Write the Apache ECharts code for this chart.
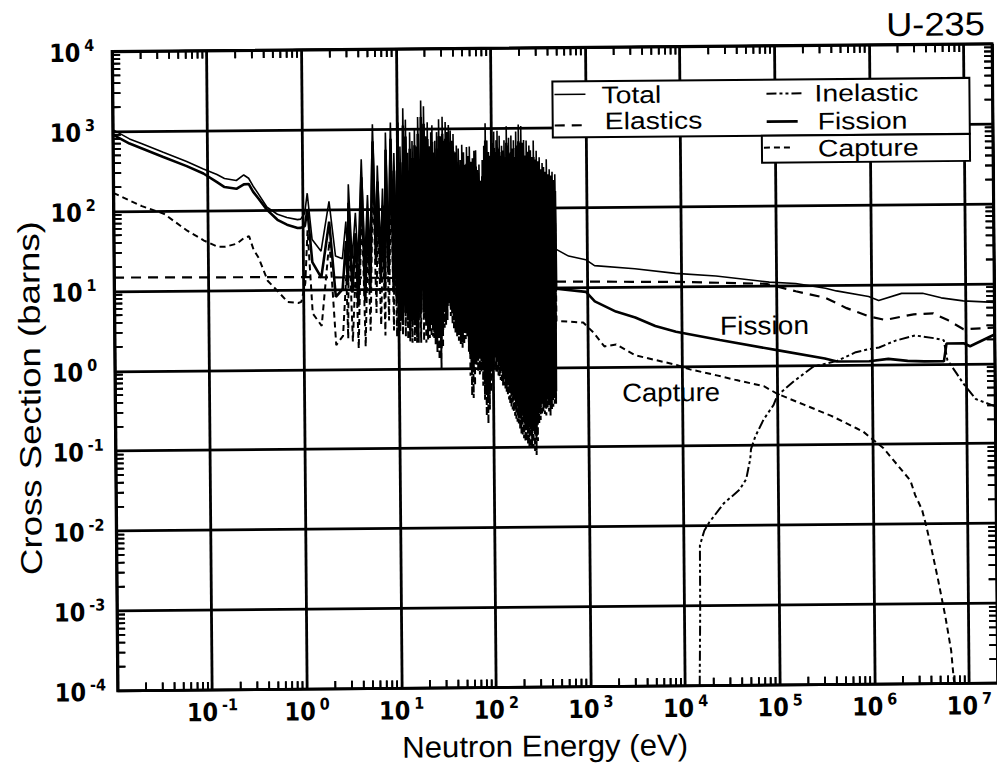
<!DOCTYPE html>
<html>
<head>
<meta charset="utf-8">
<title>U-235 cross sections</title>
<script src="https://cdn.jsdelivr.net/npm/echarts@6/dist/echarts.min.js"></script>
<style>
  html, body { margin: 0; padding: 0; background: #fff; }
  #chart { width: 997px; height: 771px; transform: rotate(-0.5deg); }
</style>
</head>
<body>
<div id="chart"></div>
<script>
// ---- U-235 neutron cross sections (barns) vs neutron energy (eV) ----

// Thermal / 1/v region, below the first resolved resonance
const lowE        = [0.01, 0.015, 0.02, 0.034, 0.06, 0.09, 0.125, 0.15, 0.2, 0.24, 0.27, 0.3, 0.34, 0.42, 0.54, 0.68, 0.88, 0.95];
const lowTotal    = [1050, 800, 700, 540, 410, 330, 280, 250, 235, 275, 250, 200, 160, 108, 88, 80, 75, 76];
const lowFission  = [910, 700, 610, 470, 360, 290, 225, 195, 185, 210, 212, 170, 140, 100, 75, 65, 59, 59];
const lowCapture  = [170, 135, 115, 92, 56, 42, 35, 35, 38, 45, 47, 32, 25, 13, 9.5, 7, 6.8, 7];

// Resolved resonance region, 1 eV - 470 eV (alternating peaks and valleys)
const resE = [
  1.05, 1.12, 1.25, 1.55, 1.9, 2.2, 2.6, 2.85, 2.95, 3.05,
  3.3, 3.6, 3.8, 4.2, 4.5, 4.85, 5.1, 5.55, 5.9, 6.2,
  6.6, 7.0, 7.3, 7.6, 8.0, 8.6, 9.0, 9.3, 9.7,
  10.2, 10.5, 10.8, 11.2, 11.66, 12.0, 12.39, 12.7, 13.0, 13.35,
  13.7, 14.1, 14.5, 14.95, 15.4, 15.75, 16.1, 16.4, 16.7, 17.4,
  18.05, 18.7, 19.3, 19.75, 20.2, 20.6, 21.07, 21.5, 22.0, 22.45,
  22.9, 23.25, 23.6, 23.95, 24.3, 24.75, 25.2, 25.8, 26.4, 27.1,
  27.8, 28.4, 29.0, 29.6, 30.3, 30.9, 31.5, 32.0, 32.6, 33.2,
  33.8, 34.5, 35.2, 36.0, 36.8, 37.5, 38.3, 38.8, 39.4, 40.2,
  41.0, 41.8, 42.6, 43.6, 44.6, 45.6, 46.6, 47.6, 48.6, 49.6,
  50.6, 51.5, 52.5, 53.5, 54.5, 55.5, 56.5, 57.4, 58.4, 59.5,
  60.6, 61.7, 62.8, 64.0, 65.3, 66.6, 68.0, 69.3, 70.6, 72.1,
  73.6, 75.0, 76.5, 78.1, 79.7, 81.3, 83.0, 84.6, 86.2, 87.9,
  89.6, 91.3, 93.0, 94.8, 96.6, 98.5,
  100.5, 101.7, 103, 104.5, 106, 107.5, 109, 110.5, 112, 113.5,
  115, 116.5, 118, 119.5, 121, 123, 125, 126.5, 128, 130,
  132, 134, 136, 138, 140, 142, 144, 146, 148, 150,
  152, 154.5, 157, 159, 161, 163.5, 166, 168.5, 171, 173.5,
  176, 178.5, 181, 184, 187, 190, 193, 196, 199, 202,
  205, 208.5, 212, 215.5, 219, 222.5, 226, 229.5, 233, 237,
  241, 245, 249, 253.5, 258, 262.5, 267, 272, 277, 282,
  287, 292, 297, 302.5, 308, 313.5, 319, 324.5, 330, 336,
  342, 348, 354, 360, 366, 372.5, 379, 385.5, 392, 399,
  406, 413, 420, 427.5, 435, 442.5, 450, 457.5, 465
];
const resTotal = [
  90, 160, 42, 30, 126, 26, 24, 70, 28, 205,
  24, 90, 22, 420, 23, 150, 25, 1150, 40, 350,
  30, 180, 28, 900, 35, 1200, 30, 500, 25,
  1950, 22, 600, 20, 1800, 24, 1300, 20, 500, 18,
  900, 20, 700, 19, 1000, 18, 600, 20, 1400, 22,
  2250, 25, 1900, 21, 800, 19, 1200, 18, 600, 18,
  900, 20, 1100, 18, 500, 17, 700, 18, 900, 19,
  1300, 17, 800, 18, 1400, 19, 700, 18, 1200, 20,
  900, 22, 1100, 20, 940, 18, 700, 17, 850, 17,
  500, 16, 610, 16, 560, 15, 400, 15, 620, 16,
  500, 15, 350, 15, 580, 15, 450, 14, 590, 14,
  380, 14, 420, 14, 520, 15, 530, 14, 300, 14,
  350, 14, 220, 14, 400, 13, 600, 13, 1150, 13,
  700, 13, 500, 14, 450, 14,
  1000, 14, 650, 14, 900, 13, 500, 13, 700, 13,
  920, 13, 550, 13, 800, 13, 450, 13, 600, 13,
  520, 13, 700, 13, 400, 13, 1050, 13, 600, 13,
  750, 12, 480, 12, 800, 12, 550, 12, 700, 12,
  420, 12, 900, 12, 600, 12, 1100, 12, 500, 12,
  1050, 12, 650, 12, 700, 12, 450, 12, 690, 12,
  500, 12, 600, 12, 520, 12, 430, 12, 690, 12,
  400, 12, 515, 12, 380, 12, 425, 12, 300, 12,
  360, 12, 320, 12, 280, 12, 400, 12, 260, 12,
  300, 12, 250, 12, 280, 12, 220, 12, 260
];
const resFission = [
  62, 100, 22, 14, 70, 8, 10, 40, 12, 120,
  9, 50, 6, 250, 7, 90, 9, 700, 20, 220,
  12, 110, 10, 550, 15, 750, 10, 300, 7,
  1200, 4, 380, 3.5, 1100, 5, 800, 4, 300, 3,
  560, 4, 430, 3.5, 620, 3, 370, 4, 860, 5,
  1400, 5, 1150, 4, 500, 3.5, 740, 3, 370, 3.5,
  550, 4, 680, 3, 310, 2.5, 430, 2.8, 560, 2.5,
  800, 1.8, 500, 3, 860, 5, 430, 5, 740, 6,
  550, 8, 680, 6, 580, 5, 430, 4, 520, 4,
  310, 3.5, 380, 3, 350, 2.8, 250, 2.5, 380, 3,
  310, 3, 220, 3.2, 360, 2.5, 280, 1.5, 360, 1.0,
  230, 0.9, 260, 1.2, 320, 1.8, 330, 1.5, 190, 1.3,
  220, 1.4, 140, 1.0, 250, 0.7, 370, 0.5, 700, 0.4,
  430, 0.6, 310, 0.9, 280, 1.3,
  620, 1.6, 400, 1.5, 560, 1.4, 310, 1.3, 430, 1.2,
  570, 1.1, 340, 1.0, 500, 1.0, 280, 0.9, 370, 0.9,
  320, 0.8, 430, 0.7, 250, 0.6, 650, 0.6, 370, 0.5,
  460, 0.5, 300, 0.45, 500, 0.4, 340, 0.4, 430, 0.35,
  260, 0.33, 560, 0.3, 370, 0.28, 680, 0.25, 310, 0.25,
  650, 0.22, 400, 0.2, 430, 0.2, 280, 0.18, 430, 0.18,
  310, 0.17, 370, 0.16, 320, 0.16, 270, 0.15, 430, 0.14,
  250, 0.2, 320, 0.3, 240, 0.32, 260, 0.35, 190, 0.4,
  220, 0.38, 200, 0.35, 175, 0.4, 250, 0.38, 160, 0.35,
  190, 0.4, 155, 0.45, 175, 0.5, 140, 0.5, 160
];
const resCapture = [
  12, 55, 5, 3.5, 40, 2.0, 2.6, 15, 2.4, 60,
  2.2, 20, 1.8, 120, 1.9, 40, 3.0, 300, 5, 90,
  3.5, 50, 2.6, 250, 4, 300, 3, 120, 2.5,
  500, 2.9, 150, 2.6, 450, 2.5, 330, 2.3, 130, 2.2,
  230, 2.1, 180, 2.2, 260, 2.1, 160, 2.1, 350, 2.1,
  560, 2.2, 480, 2.1, 200, 2.3, 300, 2.4, 150, 2.5,
  230, 2.5, 280, 2.4, 130, 2.0, 180, 1.6, 230, 1.3,
  330, 1.0, 200, 1.8, 350, 3.2, 180, 3.5, 300, 4.0,
  230, 6.5, 280, 4.5, 240, 3.5, 180, 3.0, 210, 2.8,
  130, 2.5, 150, 2.2, 140, 2.0, 100, 1.8, 160, 2.0,
  130, 2.3, 90, 2.5, 150, 1.6, 110, 0.8, 150, 0.45,
  100, 0.42, 110, 0.6, 130, 1.1, 130, 0.9, 80, 0.83,
  90, 0.9, 60, 0.6, 100, 0.4, 150, 0.25, 290, 0.2,
  180, 0.3, 130, 0.5, 115, 0.8,
  260, 1.0, 160, 0.95, 230, 0.9, 130, 0.85, 180, 0.8,
  230, 0.75, 140, 0.7, 200, 0.65, 115, 0.6, 150, 0.6,
  130, 0.55, 180, 0.5, 100, 0.45, 260, 0.4, 150, 0.35,
  190, 0.32, 120, 0.3, 200, 0.28, 140, 0.25, 180, 0.23,
  110, 0.21, 230, 0.2, 150, 0.17, 280, 0.15, 130, 0.14,
  260, 0.13, 160, 0.12, 180, 0.12, 115, 0.11, 170, 0.1,
  130, 0.1, 150, 0.1, 130, 0.1, 110, 0.09, 170, 0.08,
  100, 0.12, 130, 0.2, 95, 0.22, 105, 0.25, 75, 0.28,
  90, 0.26, 80, 0.25, 70, 0.3, 100, 0.28, 65, 0.25,
  75, 0.3, 62, 0.32, 70, 0.35, 55, 0.35, 65
];

// Unresolved / fast region, 470 eV - 20 MeV
const totalHighE   = [470, 640, 970, 1200, 3200, 8600, 2.3e4, 8.4e4, 1.6e5, 3.3e5, 4.3e5, 9.4e5, 1.2e6, 2.1e6, 3.5e6, 5.5e6, 9.4e6, 2e7];
const totalHigh    = [30, 24.5, 22, 18.5, 16.7, 14.5, 13.3, 11, 10.5, 9.1, 8.4, 7.1, 6.3, 7.7, 7.7, 6.7, 6.1, 5.8];
const fissionHighE = [470, 970, 1200, 2000, 3200, 5200, 8600, 2.5e4, 1e5, 3.2e5, 4.3e5, 9.4e5, 1.5e6, 2.4e6, 3.6e6, 5.8e6, 6.2e6, 9.4e6, 1.1e7, 2e7];
const fissionHigh  = [9.6, 8.7, 6.6, 4.9, 4.1, 3.2, 2.7, 2.1, 1.55, 1.2, 1.1, 1.1, 1.17, 1.1, 1.08, 1.08, 1.8, 1.8, 1.65, 2.3];
const captureHighE = [470, 900, 1150, 1500, 2000, 3200, 5200, 8600, 1.2e4, 2.3e4, 3.7e4, 7.2e4, 1e5, 1.9e5, 3.7e5, 6.8e5, 8e5, 1.3e6, 2.5e6, 2.8e6, 3.3e6, 3.6e6, 4.1e6, 4.8e6, 5.7e6, 6.5e6, 6.9e6, 7.1e6];
const captureHigh  = [3.8, 3.6, 2.7, 1.8, 1.9, 1.38, 1.2, 1.04, 0.91, 0.76, 0.66, 0.55, 0.44, 0.32, 0.23, 0.16, 0.145, 0.09, 0.035, 0.023, 0.015, 0.01, 0.005, 0.002, 0.00068, 0.00026, 0.00011, 0.0001];

// Elastic scattering over the full range
const elasticE = [0.01, 1, 10, 100, 470, 3000, 1e4, 7.8e4, 1.6e5, 3.3e5, 5.5e5, 9.4e5, 1.4e6, 2.8e6, 4.5e6, 6.5e6, 9.4e6, 2e7];
const elastic  = [14.8, 14.3, 13.6, 12.6, 11.8, 11.5, 11.3, 10.5, 8.4, 6.9, 5.1, 4.0, 3.6, 4.2, 4.3, 3.5, 2.7, 2.8];

// Inelastic scattering, threshold near 14 keV
const inelasticE = [1.42e4, 1.46e4, 1.47e4, 1.64e4, 1.85e4, 2.65e4, 3.9e4, 4.6e4, 5.1e4, 5.2e4, 5.8e4, 7.1e4, 9.1e4, 1e5, 1.5e5, 2.4e5, 4.3e5, 6.8e5, 9.4e5, 1.2e6, 1.8e6, 2.9e6, 4.6e6, 5.8e6, 6.3e6, 7.8e6, 9.2e6, 1.25e7, 2e7];
const inelastic  = [1e-4, 9e-4, 5.7e-3, 8.7e-3, 0.011, 0.019, 0.028, 0.038, 0.068, 0.09, 0.13, 0.21, 0.32, 0.42, 0.63, 0.95, 1.12, 1.43, 1.56, 1.63, 1.98, 2.28, 2.1, 1.98, 1.12, 0.77, 0.57, 0.36, 0.29];

// Axis extents and plot frame size
const X_MIN = 0.01, X_MAX = 2e7, Y_MIN = 1e-4, Y_MAX = 1e4;
const GRID = { left: 115, top: 48, width: 880, height: 639.5 };

[resTotal, resFission, resCapture].forEach(function (a) {
  if (a.length !== resE.length) throw new Error('resonance table length mismatch: ' + a.length + ' vs ' + resE.length);
});

function pairs(xs, ys) { return xs.map(function (x, i) { return [x, ys[i]]; }); }

const totalData     = pairs(lowE, lowTotal).concat(pairs(resE, resTotal), pairs(totalHighE, totalHigh));
const fissionData   = pairs(lowE, lowFission).concat(pairs(resE, resFission), pairs(fissionHighE, fissionHigh));
const captureData   = pairs(lowE, lowCapture).concat(pairs(resE, resCapture), pairs(captureHighE, captureHigh));
const elasticData   = pairs(elasticE, elastic);
const inelasticData = pairs(inelasticE, inelastic);

// Minor decade tick values (2..9 x 10^k) for each axis
const TICK_PX = 8;
const xMinor = [], yMinor = [];
for (let k = -2; k < 8; k++) for (let m = 2; m <= 9; m++) { const v = m * Math.pow(10, k); if (v < X_MAX) xMinor.push(v); }
for (let k = -4; k < 4; k++) for (let m = 2; m <= 9; m++) yMinor.push(m * Math.pow(10, k));

// Tick combs along the frame edges: each comb runs on the frame line and steps inward at every tick
const stepX = Math.pow(10, TICK_PX * (Math.log10(X_MAX) - Math.log10(X_MIN)) / GRID.width);
const stepY = Math.pow(10, TICK_PX * (Math.log10(Y_MAX) - Math.log10(Y_MIN)) / GRID.height);
const combBottom = [], combTop = [], combLeft = [], combRight = [];
xMinor.forEach(function (v) {
  combBottom.push([v, Y_MIN], [v, Y_MIN * stepY], [v, Y_MIN]);
  combTop.push([v, Y_MAX], [v, Y_MAX / stepY], [v, Y_MAX]);
});
yMinor.forEach(function (v) {
  combLeft.push([X_MIN, v], [X_MIN * stepX, v], [X_MIN, v]);
  combRight.push([X_MAX, v], [X_MAX / stepX, v], [X_MAX, v]);
});

// Line styles shared by plot and legend
const STYLE = {
  total:     { width: 1.6, type: 'solid' },
  elastic:   { width: 2.2, type: [10, 7] },
  inelastic: { width: 2.0, type: [10, 3, 3, 3, 3, 3] },
  fission:   { width: 2.6, type: 'solid' },
  capture:   { width: 2.0, type: [6, 4] },
  tick:      { width: 1.8, type: 'solid' }
};

const NUM_FONT  = "'Liberation Sans Narrow', 'DejaVu Sans Condensed', 'Arial Narrow', sans-serif";
const TEXT_FONT = "'Liberation Sans', Arial, Helvetica, sans-serif";

function powLabel(v, skipExp) {
  const e = Math.log10(v), n = Math.round(e);
  if (Math.abs(e - n) > 1e-6 || n === skipExp) return '';
  return '{b|10}{s|' + n + '}';
}
const labelRich = {
  b: { fontSize: 25, fontWeight: 'bold', fontFamily: NUM_FONT, color: '#000', lineHeight: 28, verticalAlign: 'bottom' },
  s: { fontSize: 16, fontWeight: 'bold', fontFamily: NUM_FONT, color: '#000', verticalAlign: 'top', padding: [0, 0, 0, 4] }
};

function lineSeries(name, data, st, z, clip) {
  return {
    name: name, type: 'line', data: data, showSymbol: false, symbol: 'none',
    lineStyle: { color: '#000', width: st.width, type: st.type },
    z: z, animation: false, clip: clip !== false
  };
}

// Legend box and annotations
function legendLine(x1, y, x2, st) {
  const s = { stroke: '#000', lineWidth: st.width };
  if (st.type !== 'solid') s.lineDash = st.type.slice();
  return { type: 'line', z: 101, shape: { x1: x1, y1: y, x2: x2, y2: y }, style: s };
}
function label(text, x, y, size, align, sx) {
  return { type: 'text', z: 101, x: x, y: y, scaleX: sx || 1,
           style: { text: text, fill: '#000', fontSize: size, fontFamily: TEXT_FONT, align: align || 'left', verticalAlign: 'middle' } };
}

const chart = echarts.init(document.getElementById('chart'), null, { renderer: 'svg' });
chart.setOption({
  animation: false,
  grid: { left: GRID.left, top: GRID.top, width: GRID.width, height: GRID.height, show: true,
          borderColor: '#000', borderWidth: 2.8, outerBoundsMode: 'none' },
  xAxis: {
    type: 'log', logBase: 10, min: X_MIN, max: X_MAX, splitNumber: 10,
    axisLine: { show: false }, axisTick: { show: false },
    splitLine: { show: true, lineStyle: { color: '#000', width: 2.8 } },
    axisLabel: { margin: 7, formatter: function (v) { return powLabel(v, -2); }, rich: labelRich }
  },
  yAxis: {
    type: 'log', logBase: 10, min: Y_MIN, max: Y_MAX, splitNumber: 10,
    axisLine: { show: false }, axisTick: { show: false },
    splitLine: { show: true, lineStyle: { color: '#000', width: 2.8 } },
    axisLabel: { margin: 63, align: 'left', formatter: function (v) { return powLabel(v, null); }, rich: labelRich }
  },
  series: [
    lineSeries('ticksBottom', combBottom, STYLE.tick, 2, false),
    lineSeries('ticksTop', combTop, STYLE.tick, 2, false),
    lineSeries('ticksLeft', combLeft, STYLE.tick, 2, false),
    lineSeries('ticksRight', combRight, STYLE.tick, 2, false),
    lineSeries('Elastics', elasticData, STYLE.elastic, 3),
    lineSeries('Inelastic', inelasticData, STYLE.inelastic, 3),
    lineSeries('Capture', captureData, STYLE.capture, 4),
    lineSeries('Fission', fissionData, STYLE.fission, 5),
    lineSeries('Total', totalData, STYLE.total, 6)
  ]
});

// Frame ticks again as graphic lines, positioned through the axis scales
const tickEls = [];
function addTick(x, y, dx, dy) {
  const p = chart.convertToPixel({ gridIndex: 0 }, [x, y]);
  if (!p || !isFinite(p[0]) || !isFinite(p[1])) return;
  tickEls.push({ type: 'line', z: 102, shape: { x1: p[0], y1: p[1], x2: p[0] + dx, y2: p[1] + dy },
                 style: { stroke: '#000', lineWidth: STYLE.tick.width } });
}
xMinor.forEach(function (v) { addTick(v, Y_MIN, 0, -TICK_PX); addTick(v, Y_MAX, 0, TICK_PX); });
yMinor.forEach(function (v) { addTick(X_MIN, v, TICK_PX, 0); addTick(X_MAX, v, -TICK_PX, 0); });

const decorEls = [
  { type: 'rect', z: 100, shape: { x: 555, y: 82, width: 417, height: 56 }, style: { fill: '#fff', stroke: '#000', lineWidth: 2 } },
  { type: 'rect', z: 100, shape: { x: 764, y: 138, width: 208, height: 27 }, style: { fill: '#fff', stroke: '#000', lineWidth: 2 } },
  legendLine(557, 95, 588, STYLE.total),
  legendLine(557, 126, 590, STYLE.elastic),
  legendLine(769, 96, 806, STYLE.inelastic),
  legendLine(769, 124, 800, STYLE.fission),
  legendLine(766, 150, 796, STYLE.capture),
  label('Total', 604, 96, 24, 'left', 1.18),
  label('Elastics', 607, 122, 24, 'left', 1.18),
  label('Inelastic', 817, 96, 24, 'left', 1.18),
  label('Fission', 820, 124, 24, 'left', 1.18),
  label('Capture', 820, 151, 24, 'left', 1.18),
  label('U-235', 988, 28, 33, 'right', 1.1),
  label('Fission', 765, 328, 26, 'center', 1.08),
  label('Capture', 671, 394, 26, 'center', 1.06),
  label('Neutron Energy (eV)', 542, 746, 30, 'center', 1.04),
  { type: 'text', z: 101, x: 30, y: 394, rotation: Math.PI / 2, scaleX: 1.22,
    style: { text: 'Cross Section (barns)', fill: '#000', fontSize: 30, fontFamily: TEXT_FONT, align: 'center', verticalAlign: 'middle' } }
];

chart.setOption({ graphic: { elements: decorEls.concat(tickEls) } });
</script>
</body>
</html>
